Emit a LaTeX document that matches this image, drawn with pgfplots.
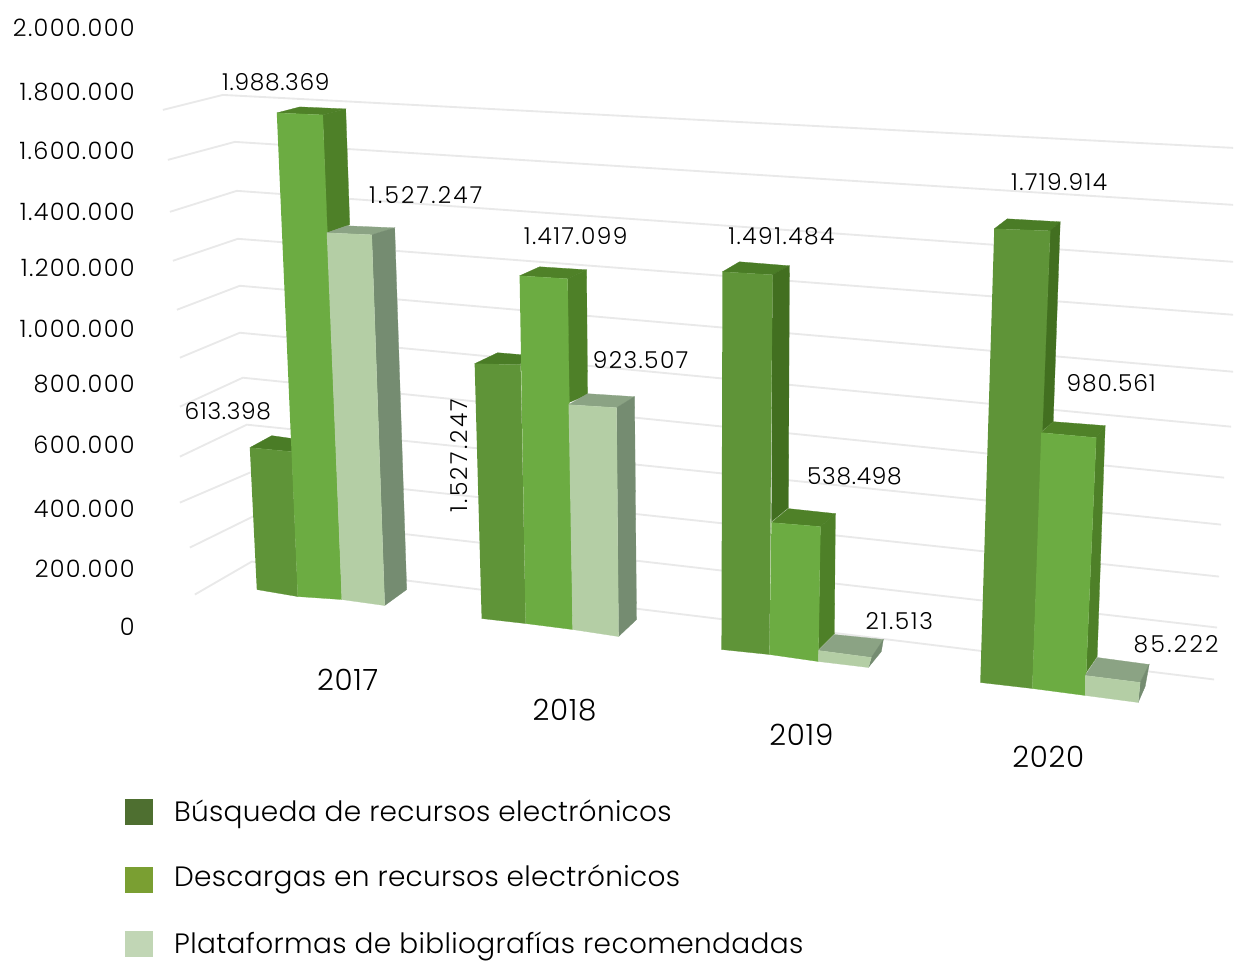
\documentclass[border=0pt]{standalone}
\usepackage{pgfplots}
\pgfplotsset{compat=1.18}
\usepackage{fontspec}
\setmainfont{Poppins}[UprightFont=* Light]
\definecolor{gridc}{HTML}{E9E9E9}
\definecolor{af}{HTML}{5F9438}\definecolor{at}{HTML}{4A7C26}\definecolor{as}{HTML}{426F20}
\definecolor{bf}{HTML}{6CAC42}\definecolor{bt}{HTML}{4F8128}\definecolor{bs}{HTML}{4E8028}
\definecolor{cf}{HTML}{B4CEA5}\definecolor{ct}{HTML}{8BA384}\definecolor{cs}{HTML}{758C71}
\definecolor{la}{HTML}{4E6F30}\definecolor{lb}{HTML}{7A9F32}\definecolor{lc}{HTML}{C1D6B5}
\newcommand{\poly}[2]{\addplot[fill=#1,draw=#1,line width=0.2pt,mark=none,forget plot] coordinates {#2};}
\newcommand{\gl}[1]{\addplot[color=gridc,line width=1.4pt,mark=none,forget plot] coordinates {#1};}
\newcommand{\lbl}[2]{\node[font=\fontsize{22}{22}\selectfont\addfontfeature{LetterSpace=2.5},anchor=center,inner sep=0pt] at (axis cs:#1) {#2};}
\newcommand{\dl}[3]{\node[font=\fontsize{17.5}{17.5}\selectfont\addfontfeature{LetterSpace=#3},anchor=center,inner sep=0pt] at (axis cs:#1) {#2};}
\newcommand{\tl}[2]{\node[font=\fontsize{18}{18}\selectfont\addfontfeature{LetterSpace=5.5},anchor=east,inner sep=0pt] at (axis cs:135,#1) {#2};}
\newcommand{\lgd}[3]{\node[font=\fontsize{21}{21}\selectfont\addfontfeature{LetterSpace=#3},anchor=west,inner sep=0pt] at (axis cs:174,#1) {#2};}
\begin{document}
\begin{tikzpicture}
\begin{axis}[at={(0,0)},anchor=south west,scale only axis,width=925.5pt,height=720pt,
  xmin=0,xmax=1234,ymin=0,ymax=960,y dir=reverse,hide axis,clip=false]
% grid
\gl{(163,110)(223,95)(1234,148)}
\gl{(168,160)(235,142)(1234,205)}
\gl{(170,212)(237,191)(1234,262)}
\gl{(173,261)(238,239)(1234,315)}
\gl{(177,310)(240,286)(1234,372)}
\gl{(180,358)(240,333)(1232,427)}
\gl{(180,407)(243,378)(1225,478)}
\gl{(180,457)(247,425)(1222,525)}
\gl{(180,503)(250,473)(1220,577)}
\gl{(190,548)(253,517)(1218,628)}
\gl{(195,595)(252,562)(1215,680)}
% 2017
\poly{at}{(250,448)(272,436)(293,439)(292,452)}
\poly{af}{(250,448)(292,452)(298,597)(257,590)}
\poly{bt}{(277,113)(300,107)(346,109)(323,115)}
\poly{bs}{(323,115)(346,109)(350,225)(327,233)}
\poly{bf}{(277,113)(323,115)(342,600)(298,597)}
\poly{ct}{(327,233)(347,226)(395,228)(372,235)}
\poly{cs}{(372,235)(395,228)(407,590)(385,606)}
\poly{cf}{(327,233)(372,235)(385,606)(342,600)}
% 2018
\poly{at}{(475,364)(498,353)(522,355)(521,365)}
\poly{af}{(475,364)(521,365)(526,624)(482,619)}
\poly{bt}{(520,276)(540,267)(587,270)(568,279)}
\poly{bs}{(568,279)(587,270)(588,395)(569,403)}
\poly{bf}{(520,276)(568,279)(573,630)(526,624)}
\poly{ct}{(569,405)(588,394)(635,397)(617,408)}
\poly{cs}{(617,408)(635,397)(637,620)(619,637)}
\poly{cf}{(569,405)(617,408)(619,637)(573,630)}
% 2019
\poly{at}{(723,272)(740,262)(790,266)(773,275)}
\poly{as}{(773,275)(790,266)(789,508)(772,522)}
\poly{af}{(723,272)(773,275)(770,655)(722,650)}
\poly{bt}{(772,523)(789,509)(836,514)(821,527)}
\poly{bs}{(821,527)(836,514)(835,634)(819,650)}
\poly{bf}{(772,523)(821,527)(819,662)(770,655)}
\poly{ct}{(819,651)(835,635)(884,640)(872,658)}
\poly{cs}{(872,658)(884,640)(882,652)(869,668)}
\poly{cf}{(819,651)(872,658)(869,668)(819,662)}
% 2020
\poly{at}{(995,229)(1008,219)(1061,222)(1051,231)}
\poly{as}{(1051,231)(1061,222)(1054,422)(1042,432)}
\poly{af}{(995,229)(1051,231)(1033,689)(981,683)}
\poly{bt}{(1042,433)(1054,422)(1106,426)(1097,438)}
\poly{bs}{(1097,438)(1106,426)(1098,657)(1087,673)}
\poly{bf}{(1042,433)(1097,438)(1086,696)(1033,689)}
\poly{ct}{(1086,676)(1098,658)(1150,665)(1141,683)}
\poly{cs}{(1141,683)(1150,665)(1146,687)(1139,703)}
\poly{cf}{(1086,676)(1141,683)(1139,703)(1086,696)}
% legend
\poly{la}{(125,800)(152,800)(152,825)(125,825)}
\poly{lb}{(125,868)(152,868)(152,893)(125,893)}
\poly{lc}{(125,932)(152,932)(152,957)(125,957)}
\lgd{815}{Búsqueda de recursos electrónicos}{1.1}
\lgd{880}{Descargas en recursos electrónicos}{1.1}
\lgd{947}{Plataformas de bibliografías recomendadas}{1.3}
% ticks
\tl{28}{2.000.000}\tl{92}{1.800.000}\tl{151}{1.600.000}\tl{212}{1.400.000}
\tl{268}{1.200.000}\tl{329}{1.000.000}\tl{384}{800.000}\tl{445}{600.000}
\tl{509}{400.000}\tl{569}{200.000}\tl{627}{0}
% categories
\lbl{348,680}{2017}\lbl{565,711}{2018}\lbl{802,735}{2019}\lbl{1049,757}{2020}
% data labels
\dl{276,82}{1.988.369}{3}\dl{426,195}{1.527.247}{9.5}\dl{228,412}{613.398}{3}
\node[font=\fontsize{17.5}{17.5}\selectfont\addfontfeature{LetterSpace=9.5},rotate=90,anchor=center,inner sep=0pt] at (axis cs:459,456) {1.527.247};
\dl{576,236}{1.417.099}{6}\dl{641,360}{923.507}{6}\dl{782,236}{1.491.484}{6.5}
\dl{855,477}{538.498}{3}\dl{900,622}{21.513}{7}\dl{1060,182}{1.719.914}{6}
\dl{1112,384}{980.561}{4}\dl{1177,645}{85.222}{10}
\end{axis}
\path[use as bounding box] (0,0) rectangle (925.5pt,720pt);
\end{tikzpicture}
\end{document}
